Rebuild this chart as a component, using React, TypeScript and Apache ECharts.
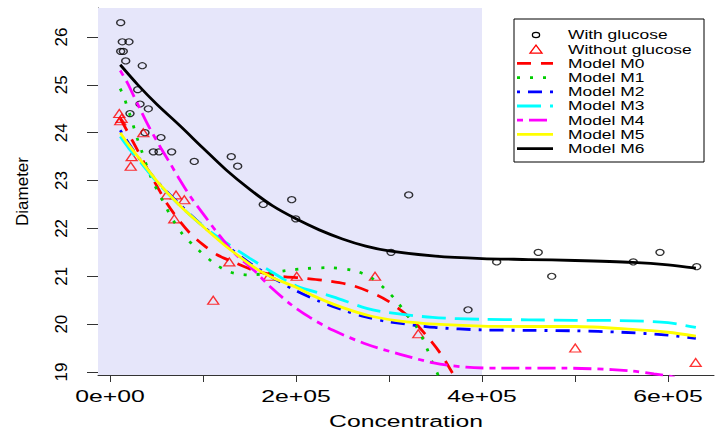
import React, { useEffect, useRef } from "react";
import * as echarts from "echarts";

// ---------- axis extents & ticks ----------
const xMin = -12900;
const xMax = 649500;
const yMin = 18.937;
const yMax = 26.606;
const shadeEnd = 400000;
const xTicks = [0, 100000, 200000, 300000, 400000, 500000, 600000];
const xLabelValues = [0, 200000, 400000, 600000];
const xLabelTexts = ["0e+00", "2e+05", "4e+05", "6e+05"];
const yTicks = [19, 20, 21, 22, 23, 24, 25, 26];

// ---------- observations ----------
const withGlucose: [number, number][] = [
  [11500, 26.3], [13200, 25.9], [20400, 25.9], [11500, 25.7], [14300, 25.7],
  [16900, 25.5], [34700, 25.4], [29800, 24.9], [32300, 24.6], [41200, 24.5],
  [21500, 24.4], [37600, 24.0], [54800, 23.9], [46600, 23.6], [52700, 23.6],
  [66300, 23.6], [90600, 23.4], [130400, 23.5], [137300, 23.3], [164800, 22.5],
  [195400, 22.6], [199700, 22.2], [321200, 22.7], [302200, 21.5], [415800, 21.3],
  [460500, 21.5], [475000, 21.0], [562700, 21.3], [591400, 21.5], [630900, 21.2],
  [385000, 20.3],
];
const withoutGlucose: [number, number][] = [
  [10000, 24.4], [11000, 24.25], [12500, 24.3], [35800, 24.0], [23300, 23.5],
  [22300, 23.3], [61000, 22.7], [71000, 22.7], [79900, 22.6], [69100, 22.2],
  [128300, 21.3], [111000, 20.5], [171000, 21.0], [200800, 21.0], [285000, 21.0],
  [331500, 19.8], [500300, 19.5], [629800, 19.2],
];

// ---------- fitted model curves ----------
const modelM0: [number, number][] = [
  [11000, 24.3], [20000, 23.98], [30000, 23.62], [40000, 23.25], [50000, 22.9],
  [62000, 22.5], [75000, 22.15], [87000, 21.88], [100000, 21.66], [115000, 21.45],
  [130000, 21.32], [155000, 21.12], [180000, 21.01], [208000, 20.96], [235000, 20.9],
  [262000, 20.8], [288000, 20.6], [300000, 20.47], [312000, 20.3], [326000, 20.07],
  [342000, 19.72], [356000, 19.37], [367000, 19.02], [372000, 18.85],
];
const modelM1: [number, number][] = [
  [11000, 24.92], [15000, 24.75], [18000, 24.57], [21000, 24.4], [24000, 24.22],
  [27000, 24.02], [30000, 23.84], [34000, 23.62], [40000, 23.28], [46000, 22.98],
  [53000, 22.72], [60000, 22.45], [67000, 22.2], [78000, 21.88], [94000, 21.57],
  [112000, 21.27], [125000, 21.12], [135000, 21.06], [149000, 21.03], [165000, 21.05],
  [190000, 21.12], [210000, 21.16], [235000, 21.18], [262000, 21.12], [280000, 20.98],
  [296000, 20.73], [308000, 20.49], [319000, 20.2], [330000, 19.93], [339000, 19.58],
  [346000, 19.23], [351000, 19.02], [354000, 18.88],
];
const modelM2: [number, number][] = [
  [11000, 24.05], [20000, 23.78], [30000, 23.5], [50000, 23.0], [75000, 22.5],
  [100000, 22.05], [125000, 21.65], [150000, 21.28], [175000, 20.97], [200000, 20.7],
  [225000, 20.48], [250000, 20.3], [275000, 20.15], [300000, 20.05], [350000, 19.93],
  [400000, 19.88], [450000, 19.87], [500000, 19.86], [550000, 19.83], [600000, 19.77],
  [630000, 19.7],
];
const modelM3: [number, number][] = [
  [11000, 23.92], [20000, 23.68], [30000, 23.45], [50000, 22.98], [75000, 22.48],
  [100000, 22.05], [125000, 21.7], [150000, 21.38], [175000, 21.08], [200000, 20.8],
  [240000, 20.57], [276000, 20.33], [300000, 20.24], [347000, 20.14], [400000, 20.1],
  [450000, 20.09], [500000, 20.08], [562000, 20.07], [600000, 20.03], [630000, 19.93],
];
const modelM4: [number, number][] = [
  [11000, 25.3], [19000, 25.03], [26000, 24.75], [33000, 24.47], [42000, 24.12],
  [55000, 23.67], [65000, 23.35], [74000, 23.05], [87000, 22.65], [103000, 22.23],
  [115000, 21.92], [133000, 21.5], [155000, 21.12], [173000, 20.77], [194000, 20.42],
  [215000, 20.14], [240000, 19.87], [276000, 19.58], [312000, 19.37], [348000, 19.19],
  [383000, 19.1], [420000, 19.08], [490000, 19.08], [540000, 19.05], [562000, 19.02],
  [585000, 18.96], [605000, 18.9], [625000, 18.8],
];
const modelM5: [number, number][] = [
  [11000, 24.0], [20000, 23.75], [30000, 23.5], [50000, 23.0], [75000, 22.48],
  [100000, 22.04], [122000, 21.67], [140000, 21.4], [158000, 21.15], [175000, 20.97],
  [200000, 20.77], [220000, 20.58], [248000, 20.36], [280000, 20.17], [310000, 20.07],
  [350000, 20.0], [400000, 19.96], [450000, 19.95], [500000, 19.95], [562000, 19.89],
  [600000, 19.83], [630000, 19.75],
];
const modelM6: [number, number][] = [
  [11000, 25.42], [30000, 25.0], [50000, 24.6], [75000, 24.15], [100000, 23.68],
  [125000, 23.22], [150000, 22.82], [175000, 22.47], [200000, 22.2], [225000, 21.97],
  [250000, 21.78], [275000, 21.63], [300000, 21.53], [350000, 21.42], [400000, 21.37],
  [450000, 21.35], [500000, 21.33], [562000, 21.29], [600000, 21.24], [630000, 21.17],
];

const modelNames = ["Model M0", "Model M1", "Model M2", "Model M3", "Model M4", "Model M5", "Model M6"];
const pointNames = ["With glucose", "Without glucose"];

// ---------- styles ----------
const FONT = '"Liberation Sans", Arial, Helvetica, sans-serif';
const modelData = [modelM0, modelM1, modelM2, modelM3, modelM4, modelM5, modelM6];
const modelColors = ["#ff0000", "#00cd00", "#0000ff", "#00ffff", "#ff00ff", "#ffff00", "#000000"];
const modelDashes: (number[] | "solid")[] = [
  [14, 10], [3, 10], [3, 8, 14, 8], [24, 9], [6, 6, 18, 6], "solid", "solid",
];
const AXIS_COLOR = "#333";

export default function App() {
  const ref = useRef<HTMLDivElement>(null);

  useEffect(() => {
    document.body.style.margin = "0";
    const chart = echarts.init(ref.current!, null, { renderer: "svg" });

    const series: any[] = [
      {
        name: "shade",
        type: "line",
        data: [[xMin, yMin]],
        symbol: "none",
        lineStyle: { opacity: 0 },
        silent: true,
        z: 1,
        markArea: {
          silent: true,
          itemStyle: { color: "#e6e6fa" },
          data: [[{ coord: [xMin, yMin] }, { coord: [shadeEnd, yMax] }]],
        },
      },
      {
        name: pointNames[0],
        type: "scatter",
        data: withGlucose,
        symbol: "circle",
        symbolSize: [8, 6],
        itemStyle: { color: "transparent", borderColor: "#000", borderWidth: 1.3 },
        z: 2,
      },
      {
        name: pointNames[1],
        type: "scatter",
        data: withoutGlucose,
        symbol: "triangle",
        symbolSize: [11, 8],
        itemStyle: { color: "transparent", borderColor: "#ff0000", borderWidth: 1.3 },
        z: 2,
      },
      ...modelData.map((d, i) => ({
        name: modelNames[i],
        type: "line",
        data: d,
        symbol: "none",
        showSymbol: false,
        smooth: 0.3,
        clip: true,
        z: 3,
        lineStyle: { color: modelColors[i], width: 2.8, type: modelDashes[i] },
      })),
    ];

    chart.setOption({
      animation: false,
      backgroundColor: "#ffffff",
      grid: { left: 98, top: 8, right: 2, bottom: 57, containLabel: false },
      xAxis: {
        type: "value",
        min: xMin,
        max: xMax,
        axisLine: { show: true, onZero: false, lineStyle: { color: AXIS_COLOR, width: 1 } },
        axisTick: { show: true, customValues: xTicks, length: 7, lineStyle: { color: AXIS_COLOR } },
        axisLabel: { show: false },
        splitLine: { show: false },
      },
      yAxis: {
        type: "value",
        min: yMin,
        max: yMax,
        axisLine: { show: true, onZero: false, lineStyle: { color: AXIS_COLOR, width: 1 } },
        axisTick: { show: true, customValues: yTicks, length: 11, lineStyle: { color: AXIS_COLOR } },
        axisLabel: {
          customValues: yTicks,
          rotate: 90,
          margin: 28,
          fontSize: 17,
          fontFamily: FONT,
          color: "#000",
        },
        splitLine: { show: false },
        name: "Diameter",
        nameLocation: "middle",
        nameRotate: 90,
        nameGap: 67,
        nameTextStyle: { fontSize: 17, fontFamily: FONT, color: "#000" },
      },
      series,
    });

    // horizontal texts drawn stretched (the original raster is stretched horizontally)
    const graphics: any[] = [];
    xLabelValues.forEach((v, i) => {
      const px = chart.convertToPixel({ xAxisIndex: 0 }, v) as number;
      graphics.push({
        type: "text",
        x: px,
        y: 396,
        scaleX: 1.5,
        z: 50,
        style: {
          text: xLabelTexts[i],
          font: `16.5px ${FONT}`,
          fill: "#000",
          align: "center",
          verticalAlign: "middle",
          textAlign: "center",
          textVerticalAlign: "middle",
        },
      });
    });
    const left = chart.convertToPixel({ xAxisIndex: 0 }, xMin) as number;
    const right = chart.convertToPixel({ xAxisIndex: 0 }, xMax) as number;
    graphics.push({
      type: "text",
      x: (left + right) / 2,
      y: 421,
      scaleX: 1.5,
      z: 50,
      style: {
        text: "Concentration",
        font: `16.5px ${FONT}`,
        fill: "#000",
        align: "center",
        verticalAlign: "middle",
        textAlign: "center",
        textVerticalAlign: "middle",
      },
    });

    // legend box
    const LX = 514, LY = 19, LW = 190, LH = 143;
    const rowY = (i: number) => 35 + i * 14.2;
    const legendChildren: any[] = [
      { type: "rect", shape: { x: LX, y: LY, width: LW, height: LH }, style: { fill: "#fff", stroke: "#000", lineWidth: 1 } },
      { type: "ellipse", shape: { cx: 536, cy: rowY(0), rx: 3.6, ry: 2.6 }, style: { fill: "none", stroke: "#000", lineWidth: 1.3 } },
      { type: "polygon", shape: { points: [[530, rowY(1) + 4], [542, rowY(1) + 4], [536, rowY(1) - 4]] }, style: { fill: "none", stroke: "#ff0000", lineWidth: 1.3 } },
    ];
    modelNames.forEach((_, i) => {
      const dash = modelDashes[i];
      legendChildren.push({
        type: "line",
        shape: { x1: 517, y1: rowY(i + 2), x2: 553, y2: rowY(i + 2) },
        style: { stroke: modelColors[i], lineWidth: 2.8, lineDash: dash === "solid" ? null : dash },
      });
    });
    [...pointNames, ...modelNames].forEach((t, i) => {
      legendChildren.push({
        type: "text",
        x: 568,
        y: rowY(i),
        scaleX: 1.45,
        style: {
          text: t,
          font: `12px ${FONT}`,
          fill: "#000",
          align: "left",
          verticalAlign: "middle",
          textAlign: "left",
          textVerticalAlign: "middle",
        },
      });
    });
    graphics.push({ type: "group", z: 60, children: legendChildren });

    chart.setOption({ graphic: graphics });

    return () => chart.dispose();
  }, []);

  return <div ref={ref} style={{ position: "fixed", left: 0, top: 0, width: 716, height: 432 }} />;
}
